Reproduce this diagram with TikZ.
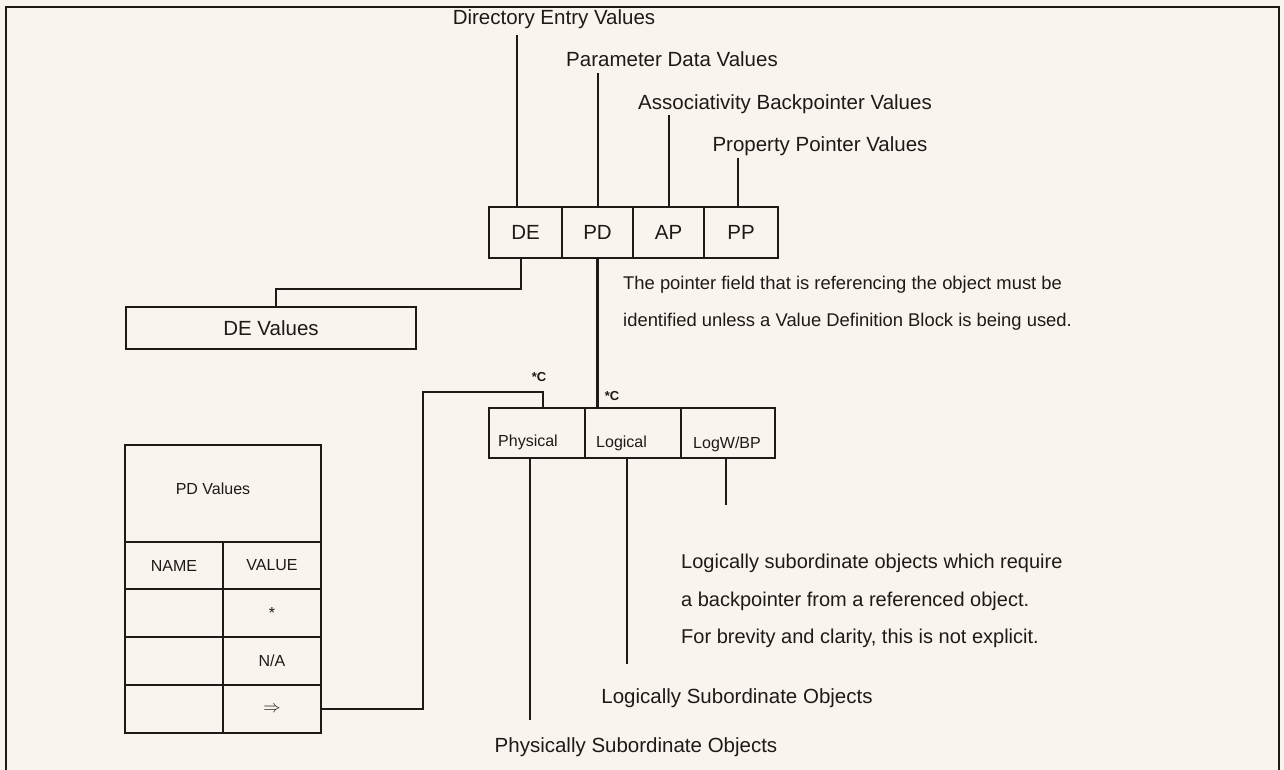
\documentclass[tikz,border=0pt]{standalone}
\usepackage{fontspec}
\setmainfont{Liberation Sans}
\usetikzlibrary{calc}
\definecolor{paper}{RGB}{249,244,237}
\definecolor{ink}{RGB}{30,26,24}
\begin{document}
\begin{tikzpicture}[x=1pt,y=-1pt,
  ink/.style={draw=ink,line width=2.8pt},
  cell/.style={ink,rectangle,inner sep=0pt,outer sep=0pt,text=ink},
  big/.style={text=ink,inner sep=0pt,font=\fontsize{20.5}{24}\selectfont},
  note/.style={text=ink,inner sep=0pt,font=\fontsize{18.4}{22}\selectfont},
  small/.style={text=ink,inner sep=0pt,font=\fontsize{16}{19}\selectfont},
  star/.style={text=ink,inner sep=0pt,font=\bfseries\fontsize{13}{15}\selectfont},
  wire/.style={draw=ink,line width=2.8pt}]
% paper and frame
\fill[paper] (0,0) rectangle (1284,770);
\useasboundingbox (0,0) rectangle (1284,770);
\draw[ink,line width=2.8pt] (6,770) -- (6,7) -- (1279,7) -- (1279,770);

% headings of the four pointer fields
\node[big] (lblDE) at (554,19) {Directory Entry Values};
\node[big] (lblPD) at (672,59) {Parameter Data Values};
\node[big] (lblAP) at (785,104) {Associativity Backpointer Values};
\node[big] (lblPP) at (820,146) {Property Pointer Values};

% pointer fields
\node[cell,big,minimum width=73pt,minimum height=51pt] (fDE) at (525.5,232.5) {DE};
\node[cell,big,minimum width=71pt,minimum height=51pt] (fPD) at (597.5,232.5) {PD};
\node[cell,big,minimum width=71pt,minimum height=51pt] (fAP) at (668.5,232.5) {AP};
\node[cell,big,minimum width=74pt,minimum height=51pt] (fPP) at (741,232.5) {PP};

\coordinate (tDE) at (517,35);
\coordinate (tPD) at (598,73);
\coordinate (tAP) at (669,115);
\coordinate (tPP) at (738,158);
\draw[wire] (tDE) -- (tDE |- fDE.north);
\draw[wire] (tPD) -- (tPD |- fPD.north);
\draw[wire] (tAP) -- (tAP |- fAP.north);
\draw[wire] (tPP) -- (tPP |- fPP.north);

% explanatory note
\node[note,anchor=west] (note1) at (623,285) {The pointer field that is referencing the object must be};
\node[note,anchor=west] (note2) at (623,322) {identified unless a Value Definition Block is being used.};

% directory entry values
\node[cell,big,minimum width=290pt,minimum height=42pt] (deVals) at (271,328) {DE Values};
\coordinate (deBend) at (521,289);
\coordinate (deDrop) at (276,289);
\draw[wire] (deBend |- fDE.south) -- (deBend) -- (deDrop) -- (deDrop |- deVals.north);

% subordination flags
\node[cell,minimum width=96pt,minimum height=50pt] (cPhys) at (537,433) {};
\node[cell,minimum width=96pt,minimum height=50pt] (cLog) at (633,433) {};
\node[cell,minimum width=94pt,minimum height=50pt] (cLogW) at (728,433) {};
\node[small,anchor=west] at ($(cPhys.west)+(9,9)$) {Physical};
\node[small,anchor=west] at ($(cLog.west)+(11,10)$) {Logical};
\node[small,anchor=west] at ($(cLogW.west)+(12,11)$) {LogW/BP};

\draw[wire] (fPD.south) -- (fPD.south |- cLog.north);
\node[star] (starPD) at (612,396) {*C};
\node[star] (starPhys) at (539,377) {*C};

% parameter data table
\node[cell,minimum width=196pt,minimum height=97pt] (pdHead) at (223,493.5) {};
\node[small] (pdTitle) at (213,489) {PD Values};
\node[cell,small,minimum width=98pt,minimum height=47pt] (n1) at (174,565.5) {NAME};
\node[cell,small,minimum width=98pt,minimum height=47pt] (v1) at (272,565.5) {VALUE};
\node[cell,minimum width=98pt,minimum height=48pt] (n2) at (174,613) {};
\node[cell,small,minimum width=98pt,minimum height=48pt] (v2) at (272,613) {\raisebox{-2pt}{*}};
\node[cell,minimum width=98pt,minimum height=48pt] (n3) at (174,661) {};
\node[cell,small,minimum width=98pt,minimum height=48pt] (v3) at (272,661) {N/A};
\node[cell,minimum width=98pt,minimum height=48pt] (n4) at (174,709) {};
\node[cell,minimum width=98pt,minimum height=48pt,font=\fontsize{17}{19}\selectfont] (v4) at (272,709) {$\Rightarrow$};

\coordinate (bendL) at (423,392);
\coordinate (bendR) at (543,392);
\draw[wire] (v4.east) -| (bendL) -- (bendR) -- (bendR |- cPhys.north);

% subordinate object leads
\coordinate (endPhys) at (530,720);
\coordinate (endLog) at (627,664);
\coordinate (endLogW) at (726,505);
\draw[wire] (endPhys |- cPhys.south) -- (endPhys);
\draw[wire] (endLog |- cLog.south) -- (endLog);
\draw[wire] (endLogW |- cLogW.south) -- (endLogW);

\node[note,anchor=west,font=\fontsize{20}{24}\selectfont] (lw1) at (681,563) {Logically subordinate objects which require};
\node[note,anchor=west,font=\fontsize{20}{24}\selectfont] (lw2) at (681,601) {a backpointer from a referenced object.};
\node[note,anchor=west,font=\fontsize{20}{24}\selectfont] (lw3) at (681,638) {For brevity and clarity, this is not explicit.};

\node[big] (logObj) at (737,698) {Logically Subordinate Objects};
\node[big] (physObj) at (636,747) {Physically Subordinate Objects};
\end{tikzpicture}
\end{document}
